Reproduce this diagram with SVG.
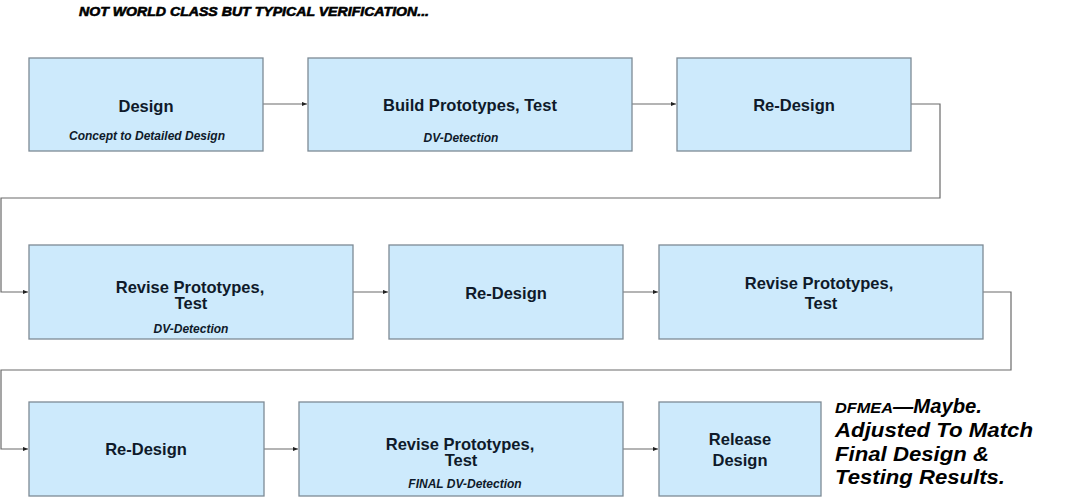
<svg xmlns="http://www.w3.org/2000/svg" width="1080" height="504" viewBox="0 0 1080 504">
<defs>
<style>
.box{fill:#cdeafc;stroke:#7d8a95;stroke-width:1.3}
.t{font-family:"Liberation Sans",Arial,sans-serif;font-weight:bold;font-size:16.5px;fill:#0f1a2a;text-anchor:middle}
.s{font-family:"Liberation Sans",Arial,sans-serif;font-weight:bold;font-style:italic;font-size:12px;fill:#0f1a2a;text-anchor:middle}
.c{fill:none;stroke:#6a6a6a;stroke-width:1.2}
.n{font-family:"Liberation Sans",Arial,sans-serif;font-weight:bold;font-style:italic;fill:#000}
</style>
<marker id="ah" viewBox="0 0 6 6" refX="6" refY="3" markerWidth="5" markerHeight="5" markerUnits="userSpaceOnUse" orient="auto">
<path d="M0,0.5 L6,3 L0,5.5 z" fill="#222"/>
</marker>
</defs>
<rect width="1080" height="504" fill="#fff"/>
<text class="n" x="79" y="16" font-size="12.5" textLength="350" lengthAdjust="spacingAndGlyphs" stroke="#000" stroke-width="0.6">NOT WORLD CLASS BUT TYPICAL VERIFICATION...</text>

<g id="connectors">
<path class="c" d="M263,104 H307" marker-end="url(#ah)"/>
<path class="c" d="M632,104 H676" marker-end="url(#ah)"/>
<path class="c" d="M911,104 H940 V198 H1 V292 H28" marker-end="url(#ah)"/>
<path class="c" d="M353,292 H388" marker-end="url(#ah)"/>
<path class="c" d="M623,292 H658" marker-end="url(#ah)"/>
<path class="c" d="M983,292 H1011 V370 H1 V449 H28" marker-end="url(#ah)"/>
<path class="c" d="M264,449 H298" marker-end="url(#ah)"/>
<path class="c" d="M623,449 H658" marker-end="url(#ah)"/>
</g>

<g id="n1">
<rect class="box" x="29" y="58" width="234" height="93"/>
<text class="t" x="146" y="112">Design</text>
<text class="s" x="147" y="140">Concept to Detailed Design</text>
</g>
<g id="n2">
<rect class="box" x="308" y="58" width="324" height="93"/>
<text class="t" x="470" y="111">Build Prototypes, Test</text>
<text class="s" x="461" y="142">DV-Detection</text>
</g>
<g id="n3">
<rect class="box" x="677" y="58" width="234" height="93"/>
<text class="t" x="794" y="111">Re-Design</text>
</g>

<g id="n4">
<rect class="box" x="29" y="245" width="324" height="94"/>
<text class="t" x="190" y="293">Revise Prototypes,</text>
<text class="t" x="191" y="309">Test</text>
<text class="s" x="191" y="333" font-size="11">DV-Detection</text>
</g>
<g id="n5">
<rect class="box" x="389" y="245" width="234" height="94"/>
<text class="t" x="506" y="299">Re-Design</text>
</g>
<g id="n6">
<rect class="box" x="659" y="245" width="324" height="94"/>
<text class="t" x="819" y="289">Revise Prototypes,</text>
<text class="t" x="821" y="309">Test</text>
</g>

<g id="n7">
<rect class="box" x="29" y="402" width="235" height="94"/>
<text class="t" x="146" y="455">Re-Design</text>
</g>
<g id="n8">
<rect class="box" x="299" y="402" width="324" height="94"/>
<text class="t" x="460" y="450">Revise Prototypes,</text>
<text class="t" x="461" y="466">Test</text>
<text class="s" x="465" y="488" font-size="11">FINAL DV-Detection</text>
</g>
<g id="n9">
<rect class="box" x="659" y="402" width="162" height="94"/>
<text class="t" x="740" y="445">Release</text>
<text class="t" x="740" y="466">Design</text>
</g>

<g id="note">
<text class="n" x="835" y="413" font-size="14" font-weight="normal" textLength="58" lengthAdjust="spacingAndGlyphs">DFMEA</text>
<text class="n" x="893" y="413" font-size="21" textLength="89" lengthAdjust="spacingAndGlyphs">—Maybe.</text>
<text class="n" x="835" y="437" font-size="21" textLength="198" lengthAdjust="spacingAndGlyphs">Adjusted To Match</text>
<text class="n" x="835" y="460.5" font-size="21" textLength="154" lengthAdjust="spacingAndGlyphs">Final Design &amp;</text>
<text class="n" x="835" y="484" font-size="21" textLength="170" lengthAdjust="spacingAndGlyphs">Testing Results.</text>
</g>
</svg>
